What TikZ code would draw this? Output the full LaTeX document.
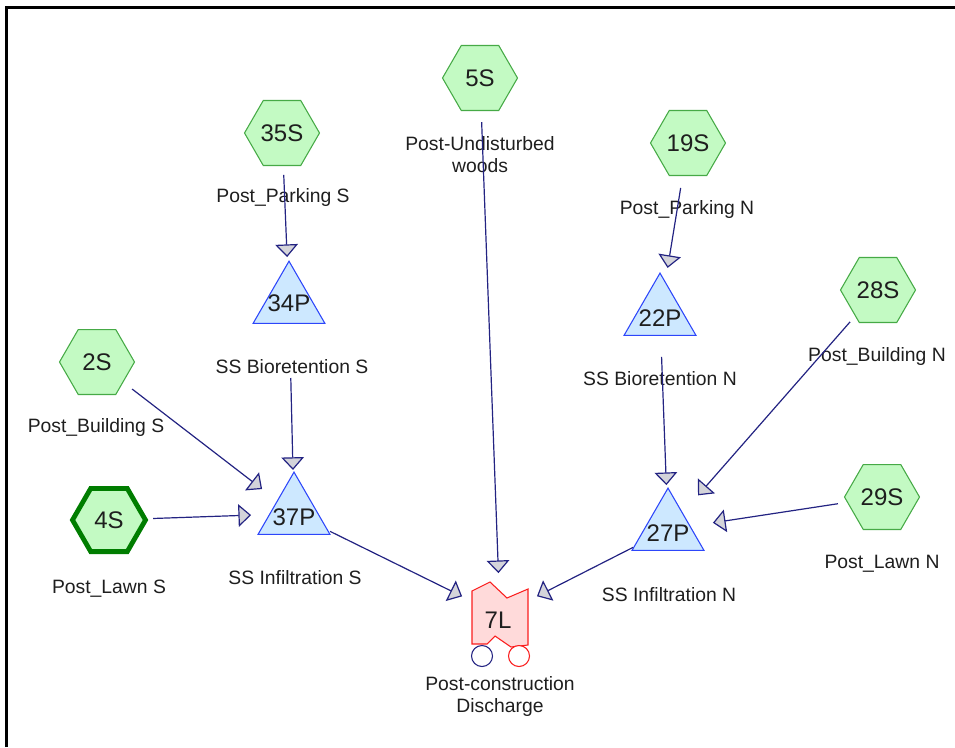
\documentclass[tikz,border=0pt]{standalone}
\usepackage{fontspec}
\setmainfont{Liberation Sans}
\usetikzlibrary{shapes.geometric,arrows.meta,calc}
\definecolor{hexfill}{RGB}{195,250,195}
\definecolor{hexdraw}{RGB}{70,170,70}
\definecolor{hexdark}{RGB}{0,125,0}
\definecolor{trifill}{RGB}{205,232,255}
\definecolor{tridraw}{RGB}{45,70,250}
\definecolor{linkfill}{RGB}{255,218,218}
\definecolor{linkdraw}{RGB}{250,30,30}
\definecolor{flowc}{RGB}{35,35,130}
\definecolor{tipfill}{RGB}{212,212,218}
\definecolor{txt}{RGB}{30,30,30}
\begin{document}
\begin{tikzpicture}[x=0.75pt,y=-0.75pt,
 subcat/.style={regular polygon, regular polygon sides=6, minimum size=56.25pt, inner sep=0pt, fill=hexfill, draw=hexdraw, line width=0.8pt, font=\fontsize{18}{20}\selectfont, text=txt},
 subcatsel/.style={subcat, draw=hexdark, line width=3.6pt, minimum size=54.75pt},
 pond/.style={regular polygon, regular polygon sides=3, minimum size=62.25pt, inner sep=0pt, fill=trifill, draw=tridraw, line width=0.8pt},
 idtext/.style={font=\fontsize{18}{20}\selectfont, text=txt, inner sep=0pt},
 lbl/.style={font=\fontsize{14.5}{16.5}\selectfont, text=txt, inner sep=0pt, anchor=base, align=center},
 flow/.style={draw=flowc, line width=0.9pt, -{Triangle[width=17pt,length=9.5pt,fill=tipfill]}},
 linkbox/.style={fill=linkfill, draw=linkdraw, line width=0.8pt},
]
\useasboundingbox (0,0) rectangle (955,747);
% frame
\draw[line width=1.9pt] (6.5,747) -- (6.5,7.5) -- (955,7.5);

% subcatchments
\node[subcat] (35S) at (282,133) {35S};
\node[subcat] (5S) at (480,78) {5S};
\node[subcat] (19S) at (688,143) {19S};
\node[subcat] (2S) at (97,362) {2S};
\node[subcatsel] (4S) at (109,520) {4S};
\node[subcat] (28S) at (878,290) {28S};
\node[subcat] (29S) at (882,497) {29S};

% ponds
\node[pond] (34P) at (289,302.7) {};
\node[idtext] (34Pt) at (289,303) {34P};
\node[pond] (37P) at (294,513.6) {};
\node[idtext] (37Pt) at (294,517) {37P};
\node[pond] (22P) at (660,314.6) {};
\node[idtext] (22Pt) at (660,318) {22P};
\node[pond] (27P) at (668,529.6) {};
\node[idtext] (27Pt) at (668,533) {27P};

% link
\node[minimum width=42pt, minimum height=48pt, inner sep=0pt] (7L) at (500,615) {};
\draw[linkbox] (472,591) -- (490,582) -- (507,598) -- (528,589) -- (528,645) -- (511,647) -- (495,636) -- (487,644) -- (472,644) -- cycle;
\node[idtext] (7Lt) at (498,620) {7L};
\draw[draw=flowc, fill=white, line width=0.8pt] (482,656) circle[radius=10.5];
\draw[draw=linkdraw, fill=white, line width=0.8pt] (519,656) circle[radius=10.5];

% labels
\node[lbl] (l35S) at (283,202) {Post\_Parking S};
\node[lbl] (l34P) at (292,373) {SS Bioretention S};
\node[lbl] (l2S) at (96,432) {Post\_Building S};
\node[lbl] (l4S) at (109,593) {Post\_Lawn S};
\node[lbl] (l37P) at (295,584) {SS Infiltration S};
\node[lbl] (l5S) at (480,172) {Post-Undisturbed\\woods};
\node[lbl] (l7L) at (500,712) {Post-construction\\Discharge};
\node[lbl] (l19S) at (687,214) {Post\_Parking N};
\node[lbl] (l22P) at (660,385) {SS Bioretention N};
\node[lbl] (l27P) at (669,601) {SS Infiltration N};
\node[lbl] (l28S) at (877,361) {Post\_Building N};
\node[lbl] (l29S) at (882,568) {Post\_Lawn N};

% flows
\draw[flow] ($(35S)!0.247!(34P)$) -- ($(35S)!0.731!(34P)$);
\draw[flow] ($(34P)!0.357!(37P)$) -- ($(34P)!0.793!(37P)$);
\draw[flow] ($(2S)!0.178!(37P)$) -- ($(2S)!0.838!(37P)$);
\draw[flow] ($(4S)!0.238!(37P)$) -- ($(4S)!0.768!(37P)$);
\draw[flow] ($(5S)!0.082!(7L)$) -- ($(5S)!0.922!(7L)$);
\draw[flow] ($(37P)!0.175!(7L)$) -- ($(37P)!0.816!(7L)$);
\draw[flow] ($(27P)!0.208!(7L)$) -- ($(27P)!0.78!(7L)$);
\draw[flow] ($(19S)!0.262!(22P)$) -- ($(19S)!0.728!(22P)$);
\draw[flow] ($(22P)!0.197!(27P)$) -- ($(22P)!0.793!(27P)$);
\draw[flow] ($(28S)!0.133!(27P)$) -- ($(28S)!0.857!(27P)$);
\draw[flow] ($(29S)!0.206!(27P)$) -- ($(29S)!0.79!(27P)$);
\end{tikzpicture}
\end{document}
